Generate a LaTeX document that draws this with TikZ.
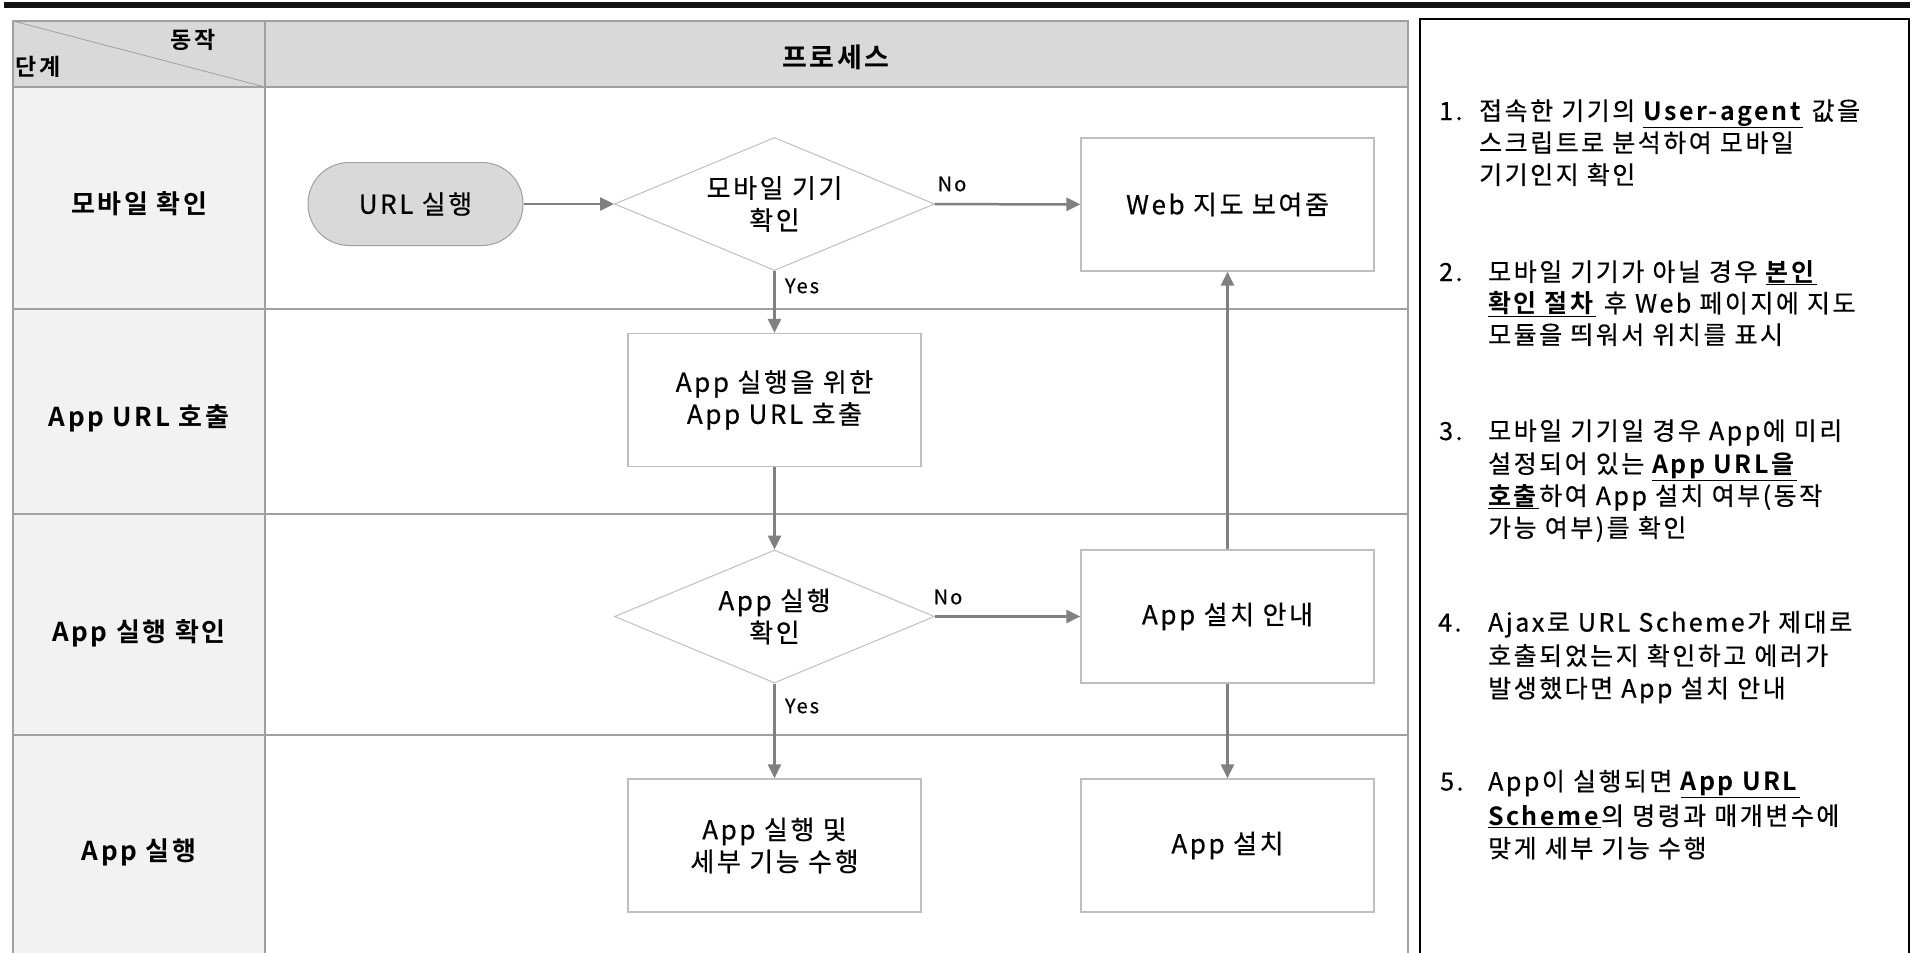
\documentclass[tikz,border=0pt]{standalone}
\usepackage{fontspec}
\setmainfont{Noto Sans CJK KR}[LetterSpace=10,UprightFeatures={FakeBold=0.5},BoldFont={Noto Sans CJK KR Bold}]
\usetikzlibrary{arrows.meta,shapes.geometric}
\definecolor{hdr}{HTML}{D9D9D9}
\definecolor{lcol}{HTML}{F2F2F2}
\definecolor{tline}{HTML}{A0A0A0}
\definecolor{arr}{HTML}{808080}
\definecolor{bord}{HTML}{BFBFBF}
\newcommand\ulb[1]{\underline{\textbf{#1}}}
\begin{document}
\begin{tikzpicture}[x=1pt,y=-1pt,
  nodefont/.style={font=\fontsize{26}{32}\selectfont},
  procbox/.style={draw=bord, line width=1.2pt, minimum width=293pt, minimum height=133pt, inner sep=0pt, align=center, nodefont},
  decbox/.style={diamond, aspect=2.4, draw=bord, line width=1pt, minimum width=320pt, minimum height=133pt, inner sep=0pt, align=center, nodefont},
  termbox/.style={draw=tline, fill=hdr, line width=1pt, rounded corners=41pt, minimum width=215pt, minimum height=83pt, inner sep=0pt, nodefont},
  flow/.style={draw=arr, line width=2.5pt, -{Triangle[length=14pt,width=13pt]}},
  lab/.style={font=\fontsize{20}{24}\selectfont, inner sep=0pt},
  rowlab/.style={font=\bfseries\fontsize{26}{30}\selectfont, inner sep=0pt},
  cornerlab/.style={font=\bfseries\fontsize{23}{26}\selectfont, inner sep=0pt},
  ptext/.style={anchor=base west, inner sep=0pt, font=\fontsize{25}{30}\selectfont},
  grid/.style={draw=tline, line width=1.3pt}
]
\useasboundingbox (0,0) rectangle (1915,953);
% top bar
\fill[black!93] (4,2) rectangle (1910,8);
% table
\fill[hdr] (13,21) rectangle (1408,87);
\fill[lcol] (13,87) rectangle (265,960);
\draw[grid] (13,21) rectangle (1408,970);
\draw[grid] (13,87) -- (1408,87);
\draw[grid] (13,309) -- (1408,309);
\draw[grid] (13,514) -- (1408,514);
\draw[grid] (13,735) -- (1408,735);
\draw[grid] (265,21) -- (265,970);
\draw[tline, line width=0.8pt] (13,21) -- (265,87);
\node[cornerlab] (hact) at (193,40) {동작};
\node[cornerlab] (hstep) at (38,67) {단계};
\node[rowlab, font=\bfseries\fontsize{27}{30}\selectfont] (hproc) at (836,57) {프로세스};
\node[rowlab] (r1) at (139,204) {모바일 확인};
\node[rowlab] (r2) at (139,418) {App URL 호출};
\node[rowlab] (r3) at (139,633) {App 실행 확인};
\node[rowlab] (r4) at (139,852) {App 실행};
% flow nodes
\node[termbox] (url) at (415.5,204) {URL 실행};
\node[decbox] (d1) at (774.5,204) {모바일 기기\\확인};
\node[procbox] (web) at (1227.5,204.5) {Web 지도 보여줌};
\node[procbox] (call) at (774.5,400) {App 실행을 위한\\App URL 호출};
\node[decbox] (d2) at (774.5,616.5) {App 실행\\확인};
\node[procbox] (guide) at (1227.5,616.5) {App 설치 안내};
\node[procbox] (exec) at (774.5,845.5) {App 실행 및\\세부 기능 수행};
\node[procbox] (inst) at (1227.5,845.5) {App 설치};
% connectors
\draw[flow] (url) -- (d1);
\draw[flow] (d1) -- (web);
\draw[flow] (d1.south) -- (call.north);
\draw[flow] (call.south) -- (d2.north);
\draw[flow] (d2) -- (guide);
\draw[flow] (d2.south) -- (exec.north);
\draw[flow] (guide.north) -- (web.south);
\draw[flow] (guide.south) -- (inst.north);
\node[lab] (no1) at (952,184) {No};
\node[lab] (yes1) at (802,286) {Yes};
\node[lab] (no2) at (948,597) {No};
\node[lab] (yes2) at (802,706) {Yes};
% right panel
\draw[black, line width=2pt] (1420,19) rectangle (1909,975);
\node[ptext] (n1) at (1439,120) {1.};
\node[ptext] (t11) at (1479,120) {접속한 기기의 \ulb{User-agent} 값을};
\node[ptext] (t12) at (1479,152) {스크립트로 분석하여 모바일};
\node[ptext] (t13) at (1479,184) {기기인지 확인};
\node[ptext] (n2) at (1439,281) {2.};
\node[ptext] (t21) at (1488,281) {모바일 기기가 아닐 경우 \ulb{본인}};
\node[ptext] (t22) at (1488,312.5) {\ulb{확인 절차} 후 Web 페이지에 지도};
\node[ptext] (t23) at (1488,344) {모듈을 띄워서 위치를 표시};
\node[ptext] (n3) at (1439,440) {3.};
\node[ptext] (t31) at (1488,440) {모바일 기기일 경우 App에 미리};
\node[ptext] (t32) at (1488,473) {설정되어 있는 \ulb{App URL을}};
\node[ptext] (t33) at (1488,505) {\ulb{호출}하여 App 설치 여부(동작};
\node[ptext] (t34) at (1488,537) {가능 여부)를 확인};
\node[ptext] (n4) at (1438,631.5) {4.};
\node[ptext] (t41) at (1488,631.5) {Ajax로 URL Scheme가 제대로};
\node[ptext] (t42) at (1488,665) {호출되었는지 확인하고 에러가};
\node[ptext] (t43) at (1488,697.5) {발생했다면 App 설치 안내};
\node[ptext] (n5) at (1440,790.5) {5.};
\node[ptext] (t51) at (1488,790.5) {App이 실행되면 \ulb{App URL}};
\node[ptext] (t52) at (1488,825) {\ulb{Scheme}의 명령과 매개변수에};
\node[ptext] (t53) at (1488,857.5) {맞게 세부 기능 수행};
\end{tikzpicture}
\end{document}
